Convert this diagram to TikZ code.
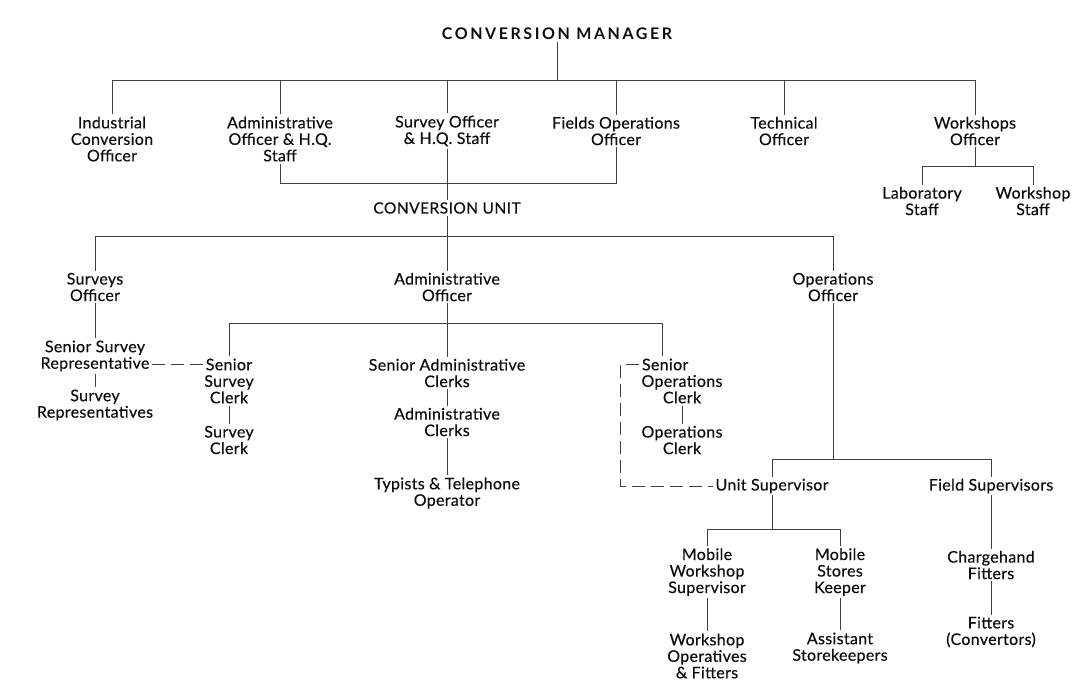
\documentclass[tikz,border=0pt]{standalone}
\usepackage{fontspec}
\setmainfont{Lato}
\usetikzlibrary{calc}
\tikzset{
    role/.style = {align=center, inner sep=2pt, text=black!95, font=\fontsize{16}{16.5}\selectfont\addfontfeature{LetterSpace=2,FakeBold=0.3}},
    head/.style = {role, font=\fontsize{16}{16.5}\selectfont\bfseries\addfontfeature{LetterSpace=16}},
    unithead/.style = {role, font=\fontsize{15.5}{16.5}\selectfont\addfontfeature{LetterSpace=3,FakeBold=0.3}},
    link/.style = {draw=black!75, line width=0.8pt},
    brokenlink/.style = {link, dash pattern=on 13pt off 6pt}
}

\begin{document}
\begin{tikzpicture}[x=1pt, y=-1pt]
    \useasboundingbox[fill=white] (0,0) rectangle (1078,697);

    % headquarters
    \node[head] (mgr) at (557,34) {CONVERSION MANAGER};
    \node[role] (ico) at (112,139) {Industrial\\Conversion\\Officer};
    \node[role] (aoh) at (280,139) {Administrative\\Officer \& H.Q.\\Staff};
    \node[role] (soh) at (447,131) {Survey Officer\\\& H.Q. Staff};
    \node[role] (foo) at (616,131) {Fields Operations\\Officer};
    \node[role] (teo) at (784,131) {Technical\\Officer};
    \node[role] (wso) at (975,131) {Workshops\\Officer};
    \node[role] (lab) at (922,201) {Laboratory\\Staff};
    \node[role] (wss) at (1033,201) {Workshop\\Staff};

    % conversion unit
    \node[unithead] (cu) at (447,208) {CONVERSION UNIT};
    \node[role] (svo) at (95,287) {Surveys\\Officer};
    \node[role] (ado) at (447,287) {Administrative\\Officer};
    \node[role] (opo) at (833,287) {Operations\\Officer};

    \node[role] (ssr) at (95,356) {Senior Survey\\Representative};
    \node[role] (sr) at (95,405) {Survey\\Representatives};
    \node[role] (ssc) at (229,381) {Senior\\Survey\\Clerk};
    \node[role] (sc) at (229,440) {Survey\\Clerk};
    \node[role] (sac) at (447,373) {Senior Administrative\\Clerks};
    \node[role] (ac) at (447,422) {Administrative\\Clerks};
    \node[role] (tto) at (447,493) {Typists \& Telephone\\Operator};
    \node[role] (soc) at (682,381) {\makebox[80pt][l]{Senior}\\Operations\\Clerk};
    \node[role] (oc) at (682,440) {Operations\\Clerk};

    \node[role] (usv) at (772,486) {Unit Supervisor};
    \node[role] (fsv) at (991,486) {Field Supervisors};
    \node[role] (mws) at (707,572) {Mobile\\Workshop\\Supervisor};
    \node[role] (msk) at (840,572) {Mobile\\Stores\\Keeper};
    \node[role] (wof) at (707,656) {Workshop\\Operatives\\\& Fitters};
    \node[role] (ast) at (840,648) {Assistant\\Storekeepers};
    \node[role] (chf) at (991,565) {Chargehand\\Fitters};
    \node[role] (fit) at (991,632) {Fitters\\(Convertors)};

    % bus lines
    \coordinate (bus1) at (557,80);
    \coordinate (bus2) at (447,183);
    \coordinate (wbus) at (975,166);
    \coordinate (bus3) at (447,236);
    \coordinate (abus) at (447,323);
    \coordinate (sochook) at ($(soc.north west)+(23,0)$);
    \coordinate (obus) at (833,459);
    \coordinate (mbus) at (772,529);

    \draw[link] (mgr) -- (bus1);
    \draw[link] (ico |- bus1) -- (wso |- bus1);
    \draw[link] (ico |- bus1) -- (ico);
    \draw[link] (aoh |- bus1) -- (aoh);
    \draw[link] (soh |- bus1) -- (soh);
    \draw[link] (foo |- bus1) -- (foo);
    \draw[link] (teo |- bus1) -- (teo);
    \draw[link] (wso |- bus1) -- (wso);

    \draw[link] (wso) -- (wbus);
    \draw[link] (lab) -- (lab |- wbus) -- (wss |- wbus) -- (wss);

    \draw[link] (aoh) -- (aoh |- bus2) -- (foo |- bus2) -- (foo);
    \draw[link] (soh) -- (cu);
    \draw[link] (cu) -- (bus3);
    \draw[link] (svo |- bus3) -- (opo |- bus3);
    \draw[link] (svo |- bus3) -- (svo);
    \draw[link] (ado |- bus3) -- (ado);
    \draw[link] (opo |- bus3) -- (opo);

    \draw[link] (svo) -- (ssr);
    \draw[link] (ssr) -- (sr);
    \draw[brokenlink] ($(ssr.east)+(0,8)$) -- ($(ssc.west)+(4,-17)$);

    \draw[link] (ado) -- (sac);
    \draw[link] (ssc) -- (ssc |- abus) -- (sochook |- abus) -- (sochook);
    \draw[link] (ssc) -- (sc);
    \draw[link] (sac) -- (ac);
    \draw[link] (ac) -- (tto);
    \draw[link] (soc) -- (oc);
    \draw[brokenlink] ($(soc.west)+(0,-16.5)$) -- ++(-19,0) |- (usv);

    \draw[link] (opo) -- (obus);
    \draw[link] (usv) -- (usv |- obus) -- (fsv |- obus) -- (fsv);
    \draw[link] (usv) -- (mbus);
    \draw[link] (mws) -- (mws |- mbus) -- (msk |- mbus) -- (msk);
    \draw[link] (mws) -- (wof);
    \draw[link] (msk) -- (ast);
    \draw[link] (fsv) -- (chf);
    \draw[link] (chf) -- (fit);
\end{tikzpicture}
\end{document}
